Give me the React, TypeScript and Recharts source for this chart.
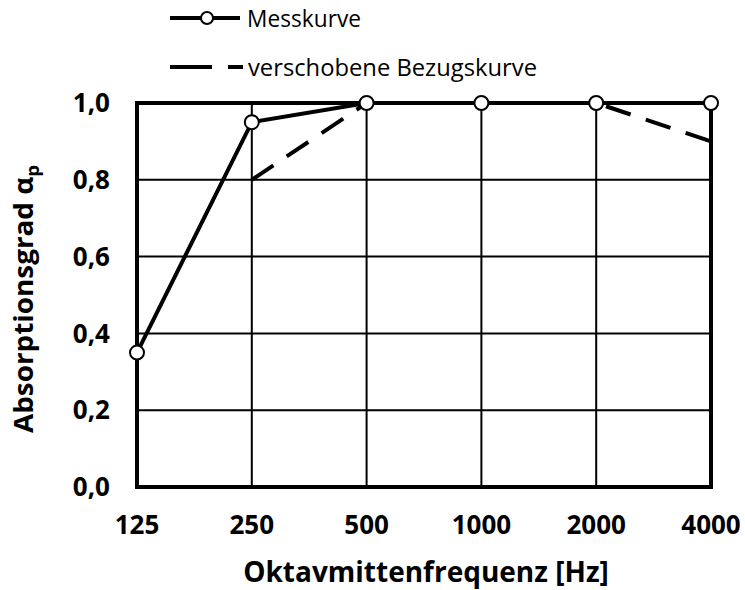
import React from 'react';
import {
  LineChart,
  Line,
  XAxis,
  YAxis,
  CartesianGrid,
  ReferenceArea,
  Label,
} from 'recharts';

const frequencies = ['125', '250', '500', '1000', '2000', '4000'];
const messkurve = [0.35, 0.95, 1.0, 1.0, 1.0, 1.0];
const bezugskurve = [null, 0.8, 1.0, 1.0, 1.0, 0.9];
const yTicks = [0, 0.2, 0.4, 0.6, 0.8, 1.0];

const data = frequencies.map((f, i) => ({
  freq: f,
  mess: messkurve[i],
  bezug: bezugskurve[i],
}));

const FONT = '"Open Sans", "Noto Sans", sans-serif';
const tickStyle = { fontSize: 26, fontWeight: 'bold', fontFamily: FONT, fill: '#000' };

// legend drawn as an overlay so it doesn't push the plot down
const ChartLegend = () => (
  <svg width={420} height={90} style={{ position: 'absolute', left: 160, top: 0 }}>
    <line x1={10} y1={18} x2={80} y2={18} stroke="#000" strokeWidth={4} />
    <circle cx={47} cy={18} r={6} fill="#fff" stroke="#000" strokeWidth={2} />
    <text x={87} y={27} fontSize={23} fontFamily={FONT} fill="#000" textLength={114} lengthAdjust="spacingAndGlyphs">
      Messkurve
    </text>
    <line x1={10} y1={67} x2={83} y2={67} stroke="#000" strokeWidth={4} strokeDasharray="42 16" />
    <text x={88} y={76} fontSize={23} fontFamily={FONT} fill="#000" textLength={289} lengthAdjust="spacingAndGlyphs">
      verschobene Bezugskurve
    </text>
  </svg>
);

const YLabel = () => {
  const cx = 33;
  const cy = 299;
  return (
    <text
      x={cx}
      y={cy}
      transform={`rotate(-90 ${cx} ${cy})`}
      textAnchor="middle"
      fontSize={27}
      fontWeight="bold"
      fontFamily={FONT}
      fill="#000"
      textLength={268}
      lengthAdjust="spacingAndGlyphs"
    >
      Absorptionsgrad α
      <tspan fontSize={18} dy={6}>p</tspan>
    </text>
  );
};

const XLabel = (props: any) => {
  const { viewBox } = props;
  return (
    <text
      x={viewBox.x + viewBox.width / 2 + 2}
      y={582}
      textAnchor="middle"
      fontSize={28}
      fontWeight="bold"
      fontFamily={FONT}
      fill="#000"
    >
      Oktavmittenfrequenz [Hz]
    </text>
  );
};

export default function App() {
  return (
    <div style={{ position: 'absolute', left: 0, top: 0, width: 745, height: 590, background: '#fff' }}>
      <LineChart
        width={745}
        height={590}
        data={data}
        margin={{ top: 103, right: 34, bottom: 0, left: 0 }}
      >
        <CartesianGrid stroke="#000" strokeWidth={2} />
        <XAxis
          dataKey="freq"
          height={103}
          axisLine={false}
          tickLine={false}
          tickSize={0}
          tickMargin={29}
          tick={tickStyle}
          interval={0}
        >
          <Label content={<XLabel />} />
        </XAxis>
        <YAxis
          width={137}
          domain={[0, 1]}
          ticks={yTicks}
          axisLine={false}
          tickLine={false}
          tickSize={0}
          tickMargin={27}
          tickFormatter={(v: number) => v.toFixed(1).replace('.', ',')}
          tick={tickStyle}
        >
          <Label content={<YLabel />} />
        </YAxis>
        <ReferenceArea
          x1="125"
          x2="4000"
          y1={0}
          y2={1}
          fill="none"
          fillOpacity={0}
          stroke="#000"
          strokeWidth={4}
          ifOverflow="visible"
        />
        <Line
          dataKey="bezug"
          stroke="#000"
          strokeWidth={4}
          strokeDasharray="26 16"
          dot={false}
          activeDot={false}
          connectNulls={false}
          isAnimationActive={false}
        />
        <Line
          dataKey="mess"
          stroke="#000"
          strokeWidth={4}
          dot={{ r: 7, fill: '#fff', stroke: '#000', strokeWidth: 2 }}
          activeDot={false}
          isAnimationActive={false}
        />
      </LineChart>
      <ChartLegend />
    </div>
  );
}
